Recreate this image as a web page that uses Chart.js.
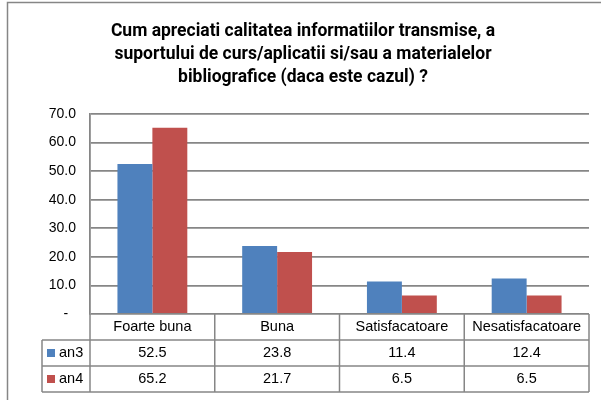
<!DOCTYPE html>
<html>
<head>
<meta charset="utf-8">
<script src="https://cdn.jsdelivr.net/npm/chart.js@4"></script>
<style>
  html, body { margin: 0; padding: 0; background: #fff; }
  canvas { display: block; }
</style>
</head>
<body>
<canvas id="chart" width="601" height="400"></canvas>
<script>
// ================= DATA =================
const categories = ["Foarte buna", "Buna", "Satisfacatoare", "Nesatisfacatoare"];
const an3 = [52.5, 23.8, 11.4, 12.4];
const an4 = [65.2, 21.7, 6.5, 6.5];
const seriesNames = ["an3", "an4"];
const titleLines = [
  "Cum apreciati calitatea informatiilor transmise, a",
  "suportului de curs/aplicatii si/sau a materialelor",
  "bibliografice (daca este cazul) ?"
];

const BLUE = "#4F81BD";
const RED = "#C0504D";
const GRID = "#868686";
const TEXT_FONT = "'Liberation Sans', Arial, sans-serif";
const TITLE_FONT = "Roboto, sans-serif";

// ================= PLUGINS =================
const frame = {
  id: "frame",
  beforeDraw(chart) {
    const c = chart.ctx;
    c.save();
    c.fillStyle = "#fff";
    c.fillRect(0, 0, chart.width, chart.height);
    c.strokeStyle = GRID;
    c.lineWidth = 1.5;
    c.strokeRect(7.5, 2.5, 700, 600);

    c.fillStyle = "#000";
    c.font = "bold 17.5px " + TITLE_FONT;
    c.textAlign = "center";
    c.textBaseline = "middle";
    titleLines.forEach((t, i) => c.fillText(t, 303, 32 + i * 23));
    c.restore();
  }
};

const dataTable = {
  id: "dataTable",
  afterDraw(chart) {
    const c = chart.ctx;
    const x = chart.scales.x;
    const area = chart.chartArea;
    const n = categories.length;
    const step = (area.right - area.left) / n;
    const top = area.bottom;
    const rowH = 26;
    const legLeft = 42;

    c.save();
    c.strokeStyle = GRID;
    c.lineWidth = 1.5;

    // horizontal lines
    c.beginPath();
    c.moveTo(legLeft, top + rowH); c.lineTo(area.right, top + rowH);
    c.moveTo(legLeft, top + rowH * 2); c.lineTo(area.right, top + rowH * 2);
    c.moveTo(legLeft, top + rowH * 3); c.lineTo(area.right, top + rowH * 3);
    // vertical lines
    c.moveTo(legLeft, top + rowH); c.lineTo(legLeft, top + rowH * 3);
    for (let i = 0; i <= n; i++) {
      const px = area.left + step * i;
      c.moveTo(px, top); c.lineTo(px, top + rowH * 3);
    }
    c.stroke();

    c.fillStyle = "#000";
    c.font = "14.5px " + TEXT_FONT;
    c.textAlign = "center";
    c.textBaseline = "middle";

    categories.forEach((cat, i) => {
      const cx = x.getPixelForValue(i);
      c.fillText(cat, cx, top + rowH / 2);
      c.fillText(an3[i].toFixed(1), cx, top + rowH * 1.5);
      c.fillText(an4[i].toFixed(1), cx, top + rowH * 2.5);
    });

    // legend keys
    const colors = [BLUE, RED];
    c.textAlign = "left";
    seriesNames.forEach((name, i) => {
      const cy = top + rowH * (1.5 + i);
      c.fillStyle = colors[i];
      c.fillRect(47, cy - 4, 8, 8);
      c.fillStyle = "#000";
      c.fillText(name, 59, cy);
    });
    c.restore();
  }
};

// ================= CHART =================
new Chart(document.getElementById("chart").getContext("2d"), {
  type: "bar",
  data: {
    labels: categories,
    datasets: [
      { label: seriesNames[0], data: an3, backgroundColor: BLUE },
      { label: seriesNames[1], data: an4, backgroundColor: RED }
    ]
  },
  options: {
    responsive: false,
    animation: false,
    devicePixelRatio: 1,
    layout: { padding: { top: 114, left: 0, right: 12, bottom: 86 } },
    datasets: { bar: { categoryPercentage: 0.56, barPercentage: 1 } },
    plugins: {
      legend: { display: false },
      title: { display: false },
      tooltip: { enabled: false }
    },
    scales: {
      x: { display: false },
      y: {
        min: 0,
        max: 70,
        afterFit(scale) { scale.width = 90; },
        ticks: {
          stepSize: 10,
          padding: 14,
          color: "#000",
          font: { family: TEXT_FONT, size: 14 },
          callback: (v) => v === 0 ? "-  " : v.toFixed(1)
        },
        grid: { color: GRID, lineWidth: 1.8, drawTicks: false },
        border: { color: GRID, width: 1.8 }
      }
    }
  },
  plugins: [frame, dataTable]
});
</script>
</body>
</html>
